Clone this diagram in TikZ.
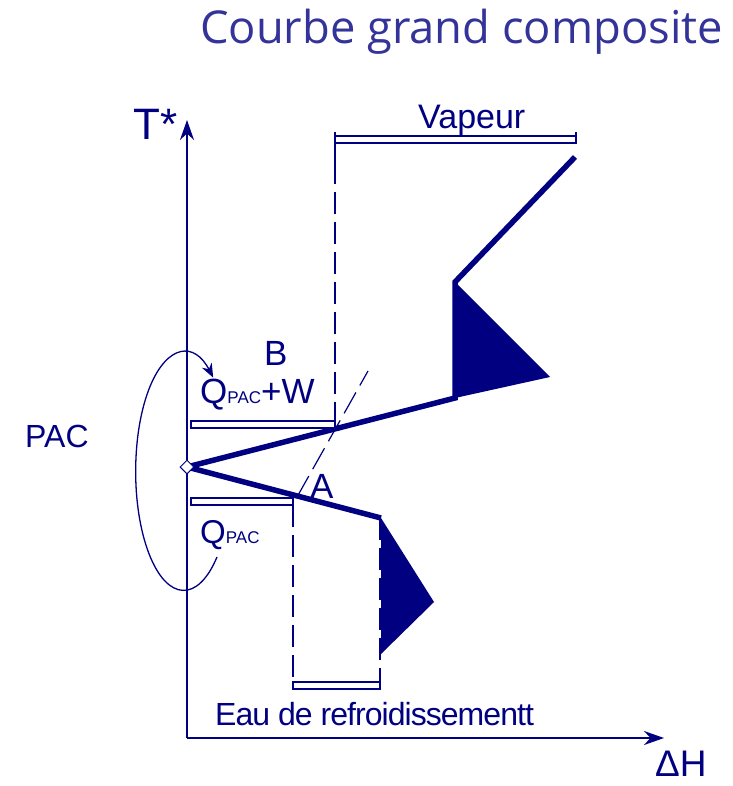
\documentclass[tikz,border=0pt]{standalone}
\usepackage{fontspec}
\setmainfont{Liberation Sans}
\newfontfamily\titlefont{Open Sans}
\newfontfamily\tightfont[LetterSpace=-3]{Liberation Sans}
\usetikzlibrary{arrows.meta, shapes.geometric, positioning}
\definecolor{curvecol}{RGB}{0,0,128}
\definecolor{titlecol}{RGB}{51,51,153}
\tikzset{
  every node/.append style={inner sep=0pt, text=curvecol},
  lbl/.style={font=\fontsize{#1}{#1}\selectfont, anchor=base west},
  axisline/.style={curvecol, line width=1.8pt},
  heavy/.style={curvecol, line width=5.5pt, line join=miter},
  bracketbox/.style={curvecol, line width=1.3pt, fill=white},
  dashline/.style={curvecol, line width=1.5pt, dash pattern=on 22pt off 8pt},
}

\begin{document}
\begin{tikzpicture}[x=1pt,y=-1pt]
\useasboundingbox (0,0) rectangle (732,786);

% ── Title ─────────────────────────────────────────────────────────────────────
\node[font=\titlefont\fontsize{45.3}{45.3}\selectfont, text=titlecol,
      anchor=base west] (title) at (200,44) {Courbe grand composite};

% ── Axes ──────────────────────────────────────────────────────────────────────
\coordinate (O)    at (187,738);
\coordinate (ytip) at (187,120);
\coordinate (xtip) at (664,738);
\draw[axisline, -{Stealth[length=20pt,width=14pt]}] (O) -- (ytip);
\draw[axisline, -{Stealth[length=20pt,width=14pt]}] (O) -- (xtip);
\node[lbl=44] (tlab) at (133,140) {T*};
\node[lbl=37] (hlab) at (655,776) {ΔH};

% ── Grand composite curve ─────────────────────────────────────────────────────
\coordinate (D)  at (187,467);
\coordinate (U1) at (455,398);
\coordinate (U2) at (455,282);
\coordinate (U3) at (550,377);
\coordinate (U4) at (575,157);
\coordinate (L1) at (381,518);
\coordinate (L2) at (434,602);
\coordinate (L3) at (381,654);

\fill[curvecol] (U2) -- (U3) -- (U1) -- cycle;
\fill[curvecol] (L1) -- (L2) -- (L3) -- cycle;
\draw[heavy] (D) -- (U1) -- (U2) -- (U4);
\draw[heavy] (D) -- (L1);

% ── Utility brackets ──────────────────────────────────────────────────────────
% Vapeur
\coordinate (vapL) at (335,162);
\coordinate (vapB) at (335,429);
\draw[bracketbox] (335,136) rectangle (576,143);
\draw[curvecol, line width=1.5pt] (335,132) -- (vapL)
                                 (576,132) -- (576,143);
\draw[dashline] (vapL) -- (vapB);
\node[lbl=34] (vap) at (418,129) {Vapeur};

% PAC levels
\draw[bracketbox] (191,421) rectangle (335,428);
\draw[bracketbox] (191,498) rectangle (293,505);
\coordinate (qA) at (293,505);
\coordinate (qB) at (293,687);
\coordinate (eA) at (380,518);
\coordinate (eB) at (380,687);
\draw[dashline] (qA) -- (qB);
\draw[dashline] (eA) -- (eB);

% Eau de refroidissement
\draw[bracketbox] (293,682) rectangle (380,689);
\node[font=\tightfont\fontsize{32}{32}\selectfont, anchor=base west]
     (eau) at (215,725) {Eau de refroidissementt};

% A -- B line
\coordinate (ptA) at (297,497);
\coordinate (ptB) at (368,371);
\draw[curvecol, line width=1.2pt, dash pattern=on 24pt off 8pt] (ptA) -- (ptB);
\node[lbl=35] (labB) at (264,365) {B};
\node[lbl=35] (labA) at (310,498) {A};
\node[lbl=35] (qw) at (200,403) {Q{\fontsize{17}{17}\selectfont PAC}+W};
\node[lbl=33] (q)  at (200,543) {Q{\fontsize{17}{17}\selectfont PAC}};

% ── Heat pump loop ────────────────────────────────────────────────────────────
\coordinate (pacstart) at (217,557);
\draw[curvecol, line width=1.3pt, -{Stealth[length=14pt,width=11pt]}]
     (pacstart) arc[start angle=46, end angle=308, x radius=48, y radius=119];
\node[lbl=32] (pac) at (25,447) {PAC};

\node[diamond, draw=curvecol, fill=white, line width=1pt,
      minimum size=14pt] (diam) at (D) {};

\end{tikzpicture}
\end{document}
